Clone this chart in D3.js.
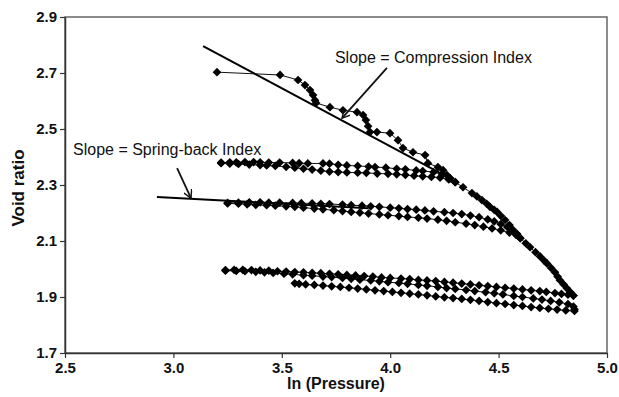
<!DOCTYPE html>
<html lang="en">
<head>
    <meta charset="UTF-8">
    <title>Void ratio vs ln (Pressure)</title>
    <style>
        html, body { margin: 0; padding: 0; background: #fff; overflow: hidden; }
        svg { display: block; }
        .tick text {
            font-family: "Liberation Sans", Arial, sans-serif;
            font-weight: bold;
            font-size: 15px;
            fill: #111;
        }
        .axis-title {
            font-family: "Liberation Sans", Arial, sans-serif;
            font-weight: bold;
            font-size: 16px;
            fill: #111;
        }
        .note {
            font-family: "Liberation Sans", Arial, sans-serif;
            font-size: 16px;
            fill: #111;
        }
    </style>
</head>
<body>
    <svg width="619" height="397"></svg>

    <script src="https://d3js.org/d3.v7.min.js"></script>
    <script>

        // Axis ticks
        const xTicks = [2.5, 3.0, 3.5, 4.0, 4.5, 5.0];
        const yTicks = [1.7, 1.9, 2.1, 2.3, 2.5, 2.7, 2.9];

        // Loading / unloading branches, [ln(p), e]
        const load1 = [
            [3.201, 2.703], [3.492, 2.693], [3.575, 2.675], [3.607, 2.657], [3.630, 2.639],
            [3.644, 2.621], [3.653, 2.603], [3.658, 2.593], [3.722, 2.578], [3.782, 2.567],
            [3.847, 2.560], [3.875, 2.550], [3.888, 2.532], [3.898, 2.510], [3.907, 2.489],
            [3.939, 2.489], [3.999, 2.485], [4.036, 2.460], [4.059, 2.432], [4.105, 2.417],
            [4.161, 2.407], [4.174, 2.378], [4.220, 2.364], [4.244, 2.353], [4.262, 2.335],
            [4.276, 2.324]
        ];
        const unload1 = [
            [4.276, 2.324], [4.240, 2.338], [4.200, 2.346], [4.150, 2.350], [4.120, 2.352],
            [4.070, 2.356], [4.030, 2.358], [3.980, 2.362], [3.930, 2.364], [3.900, 2.366],
            [3.850, 2.368], [3.800, 2.370], [3.760, 2.372], [3.720, 2.376], [3.690, 2.377],
            [3.620, 2.377], [3.580, 2.378], [3.550, 2.379], [3.490, 2.380], [3.440, 2.380],
            [3.400, 2.381], [3.370, 2.382], [3.330, 2.382], [3.290, 2.381], [3.260, 2.381],
            [3.220, 2.380]
        ];
        const reload1 = [
            [3.220, 2.378], [3.260, 2.376], [3.300, 2.375], [3.350, 2.373], [3.400, 2.371],
            [3.430, 2.370], [3.470, 2.368], [3.520, 2.365], [3.560, 2.362], [3.600, 2.358],
            [3.640, 2.355], [3.680, 2.351], [3.720, 2.348], [3.760, 2.346], [3.800, 2.345],
            [3.850, 2.344], [3.890, 2.343], [3.940, 2.341], [3.990, 2.340], [4.030, 2.338],
            [4.070, 2.336], [4.110, 2.333], [4.150, 2.331], [4.190, 2.329], [4.230, 2.326],
            [4.270, 2.320], [4.300, 2.310]
        ];
        const load2 = [
            [4.300, 2.310], [4.336, 2.292], [4.377, 2.271], [4.400, 2.259], [4.423, 2.246],
            [4.445, 2.233], [4.460, 2.222], [4.480, 2.211], [4.493, 2.204], [4.510, 2.190],
            [4.530, 2.175], [4.550, 2.157], [4.566, 2.140], [4.585, 2.125]
        ];
        const unload2 = [
            [4.585, 2.125], [4.560, 2.140], [4.540, 2.150], [4.510, 2.160], [4.480, 2.170],
            [4.450, 2.177], [4.410, 2.185], [4.370, 2.191], [4.330, 2.196], [4.290, 2.200],
            [4.250, 2.203], [4.200, 2.206], [4.160, 2.209], [4.120, 2.212], [4.080, 2.214],
            [4.040, 2.217], [4.000, 2.219], [3.950, 2.222], [3.910, 2.224], [3.870, 2.226],
            [3.820, 2.228], [3.780, 2.230], [3.720, 2.232], [3.680, 2.233], [3.640, 2.234],
            [3.590, 2.235], [3.550, 2.236], [3.490, 2.237], [3.440, 2.237], [3.400, 2.238],
            [3.350, 2.238], [3.300, 2.237], [3.250, 2.236]
        ];
        const reload2 = [
            [3.250, 2.234], [3.300, 2.233], [3.340, 2.231], [3.380, 2.229], [3.430, 2.228],
            [3.470, 2.226], [3.520, 2.224], [3.560, 2.222], [3.600, 2.219], [3.650, 2.216],
            [3.690, 2.213], [3.740, 2.210], [3.780, 2.207], [3.820, 2.204], [3.860, 2.201],
            [3.900, 2.198], [3.950, 2.195], [3.990, 2.192], [4.040, 2.189], [4.080, 2.186],
            [4.130, 2.183], [4.170, 2.180], [4.220, 2.176], [4.260, 2.172], [4.300, 2.167],
            [4.350, 2.162], [4.390, 2.157], [4.430, 2.151], [4.470, 2.145], [4.510, 2.138],
            [4.550, 2.130], [4.580, 2.122], [4.600, 2.110]
        ];
        const load3 = [
            [4.600, 2.110], [4.625, 2.092], [4.645, 2.078], [4.670, 2.060], [4.691, 2.045],
            [4.710, 2.030], [4.723, 2.020], [4.742, 2.004], [4.760, 1.988], [4.772, 1.973],
            [4.783, 1.960], [4.800, 1.945], [4.815, 1.931], [4.830, 1.918], [4.845, 1.905]
        ];
        const unload3 = [
            [4.845, 1.905], [4.820, 1.908], [4.790, 1.911], [4.760, 1.914], [4.720, 1.918],
            [4.690, 1.921], [4.650, 1.924], [4.610, 1.927], [4.570, 1.930], [4.530, 1.933],
            [4.490, 1.936], [4.450, 1.939], [4.410, 1.942], [4.370, 1.945], [4.330, 1.948],
            [4.290, 1.951], [4.250, 1.954], [4.210, 1.957], [4.170, 1.959], [4.130, 1.961],
            [4.090, 1.964], [4.050, 1.966], [4.000, 1.968], [3.960, 1.970], [3.920, 1.973],
            [3.880, 1.975], [3.840, 1.977], [3.800, 1.979], [3.760, 1.981], [3.720, 1.983],
            [3.680, 1.985], [3.640, 1.986], [3.600, 1.988], [3.560, 1.989], [3.520, 1.991],
            [3.480, 1.992], [3.440, 1.994], [3.400, 1.995], [3.360, 1.996], [3.320, 1.997],
            [3.280, 1.997], [3.240, 1.996]
        ];
        const reload3 = [
            [3.240, 1.994], [3.290, 1.993], [3.330, 1.992], [3.380, 1.990], [3.420, 1.988],
            [3.460, 1.986], [3.510, 1.983], [3.550, 1.981], [3.600, 1.978], [3.640, 1.976],
            [3.690, 1.973], [3.730, 1.971], [3.780, 1.968], [3.820, 1.965], [3.860, 1.962],
            [3.910, 1.959], [3.950, 1.956], [3.990, 1.953], [4.040, 1.950], [4.080, 1.947],
            [4.130, 1.943], [4.170, 1.940], [4.220, 1.936], [4.260, 1.932], [4.300, 1.929],
            [4.350, 1.925], [4.390, 1.921], [4.440, 1.917], [4.480, 1.913], [4.520, 1.909],
            [4.570, 1.904], [4.610, 1.900], [4.660, 1.895], [4.700, 1.891], [4.740, 1.886],
            [4.780, 1.881], [4.820, 1.875], [4.845, 1.866], [4.850, 1.856]
        ];
        const unload4 = [
            [4.850, 1.850], [4.810, 1.852], [4.770, 1.855], [4.730, 1.858], [4.690, 1.861],
            [4.650, 1.864], [4.610, 1.868], [4.570, 1.871], [4.530, 1.875], [4.490, 1.878],
            [4.450, 1.882], [4.410, 1.886], [4.370, 1.890], [4.330, 1.893], [4.290, 1.896],
            [4.250, 1.899], [4.210, 1.902], [4.170, 1.906], [4.130, 1.909], [4.090, 1.912],
            [4.050, 1.915], [4.010, 1.918], [3.970, 1.921], [3.930, 1.924], [3.890, 1.927],
            [3.850, 1.930], [3.810, 1.933], [3.770, 1.936], [3.730, 1.938], [3.690, 1.941],
            [3.650, 1.943], [3.610, 1.945], [3.580, 1.947], [3.560, 1.949]
        ];

        const branches = [load1, unload1, reload1, load2, unload2, reload2, load3, unload3, reload3, unload4];

        // Fitted slope lines and their pointer arrows
        const compressionLine = [[3.137, 2.796], [4.244, 2.337]];
        const springLine = [[2.924, 2.257], [3.900, 2.217]];
        const compressionArrow = [[3.985, 2.718], [3.778, 2.539]];
        const springArrow = [[3.017, 2.360], [3.081, 2.253]];

        const compressionText = 'Slope = Compression Index';
        const springText = 'Slope = Spring-back Index';

        const margin = { left: 65, right: 12, top: 17, bottom: 44 };

        const svg = d3.select('svg');
        const width = +svg.attr('width');
        const height = +svg.attr('height');
        const innerWidth = width - margin.left - margin.right;
        const innerHeight = height - margin.top - margin.bottom;

        const xScale = d3.scaleLinear().domain([2.5, 5.0]).range([0, innerWidth]);
        const yScale = d3.scaleLinear().domain([1.7, 2.9]).range([innerHeight, 0]);

        svg.append('rect')
            .attr('width', width)
            .attr('height', height)
            .attr('fill', '#fff');

        svg.append('defs')
            .append('marker')
            .attr('id', 'head')
            .attr('viewBox', '0 0 10 10')
            .attr('refX', 9)
            .attr('refY', 5)
            .attr('markerWidth', 5)
            .attr('markerHeight', 5)
            .attr('markerUnits', 'strokeWidth')
            .attr('orient', 'auto')
            .append('path')
            .attr('d', 'M0,0 L9,5 L0,10')
            .attr('fill', 'none')
            .attr('stroke', '#111')
            .attr('stroke-width', 1.6);

        const g = svg.append('g')
            .attr('transform', 'translate(' + margin.left + ' ' + margin.top + ')');

        // Plot frame
        g.append('rect')
            .attr('width', innerWidth)
            .attr('height', innerHeight)
            .attr('fill', 'none')
            .attr('stroke', '#666')
            .attr('stroke-width', 1.5);

        const xAxis = d3.axisBottom(xScale)
            .tickValues(xTicks)
            .tickFormat(d3.format('.1f'))
            .tickSizeInner(5)
            .tickSizeOuter(0)
            .tickPadding(4);

        const yAxis = d3.axisLeft(yScale)
            .tickValues(yTicks)
            .tickFormat(d3.format('.1f'))
            .tickSizeInner(5)
            .tickSizeOuter(0)
            .tickPadding(3);

        const xG = g.append('g')
            .attr('transform', 'translate(0 ' + innerHeight + ')')
            .call(xAxis);

        const yG = g.append('g').call(yAxis);

        [xG, yG].forEach(function (ax) {
            ax.select('.domain').attr('stroke', '#333').attr('stroke-width', 1.5);
            ax.selectAll('.tick line').attr('stroke', '#333').attr('stroke-width', 1.2);
        });

        svg.append('text')
            .attr('class', 'axis-title')
            .attr('x', margin.left + innerWidth / 2)
            .attr('y', 389)
            .attr('text-anchor', 'middle')
            .text('ln (Pressure)');

        svg.append('text')
            .attr('class', 'axis-title')
            .attr('transform', 'translate(24 ' + 188 + ') rotate(-90)')
            .attr('text-anchor', 'middle')
            .style('font-size', '17px')
            .text('Void ratio');

        const line = d3.line()
            .x(function (d) { return xScale(d[0]); })
            .y(function (d) { return yScale(d[1]); });

        // Connecting lines
        g.selectAll('path.branch')
            .data(branches)
            .enter()
            .append('path')
            .attr('class', 'branch')
            .attr('d', line)
            .attr('fill', 'none')
            .attr('stroke', '#111')
            .attr('stroke-width', 1);

        // Diamond markers
        const diamond = d3.symbol().type(d3.symbolSquare).size(38);
        const points = branches.flat();

        g.selectAll('path.pt')
            .data(points)
            .enter()
            .append('path')
            .attr('class', 'pt')
            .attr('d', diamond)
            .attr('transform', function (d) {
                return 'translate(' + xScale(d[0]) + ' ' + yScale(d[1]) + ') rotate(45)';
            })
            .attr('fill', '#000');

        // Slope lines
        g.selectAll('path.slope')
            .data([compressionLine, springLine])
            .enter()
            .append('path')
            .attr('class', 'slope')
            .attr('d', line)
            .attr('fill', 'none')
            .attr('stroke', '#000')
            .attr('stroke-width', 2);

        // Pointer arrows
        g.selectAll('path.arrow')
            .data([compressionArrow, springArrow])
            .enter()
            .append('path')
            .attr('class', 'arrow')
            .attr('d', line)
            .attr('fill', 'none')
            .attr('stroke', '#111')
            .attr('stroke-width', 1.8)
            .attr('marker-end', 'url(#head)');

        g.append('text')
            .attr('class', 'note')
            .attr('x', xScale(3.745))
            .attr('y', yScale(2.736))
            .text(compressionText);

        g.append('text')
            .attr('class', 'note')
            .attr('x', xScale(2.537))
            .attr('y', yScale(2.407))
            .text(springText);

    </script>
</body>
</html>
